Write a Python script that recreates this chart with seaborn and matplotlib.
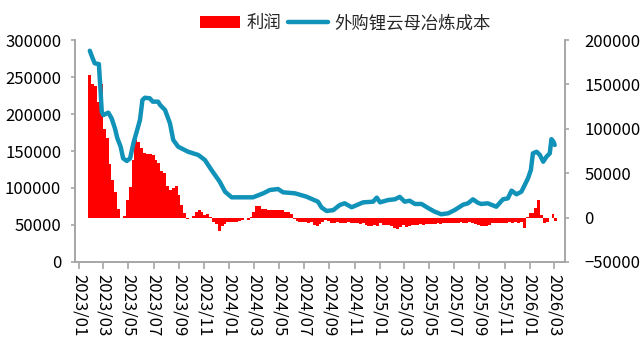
import numpy as np
import pandas as pd
import matplotlib
matplotlib.use("Agg")
from matplotlib import pyplot as plt
import matplotlib.dates as mdates
import seaborn as sns

# 外购锂云母冶炼成本 (left axis)
cost_dates = ["2023-01-27", "2023-02-03", "2023-02-08", "2023-02-18", "2023-02-22", "2023-02-25",
              "2023-03-01", "2023-03-13", "2023-03-21", "2023-03-29", "2023-04-04", "2023-04-12",
              "2023-04-18", "2023-04-27", "2023-05-05", "2023-05-13", "2023-05-21", "2023-05-29",
              "2023-06-04", "2023-06-10", "2023-06-22", "2023-06-29", "2023-07-12", "2023-07-17",
              "2023-07-29", "2023-08-10", "2023-08-18", "2023-08-30", "2023-09-23", "2023-10-18",
              "2023-11-03", "2023-11-19", "2023-12-09", "2023-12-22", "2024-01-07", "2024-02-28",
              "2024-03-24", "2024-04-09", "2024-04-29", "2024-05-11", "2024-06-09", "2024-07-07",
              "2024-08-04", "2024-08-13", "2024-08-25", "2024-09-10", "2024-09-26", "2024-10-08",
              "2024-10-25", "2024-11-22", "2024-12-16", "2024-12-25", "2025-01-02", "2025-01-22",
              "2025-02-07", "2025-02-19", "2025-03-03", "2025-03-15", "2025-03-28", "2025-04-13",
              "2025-04-30", "2025-05-15", "2025-05-31", "2025-06-17", "2025-07-03", "2025-07-23",
              "2025-08-04", "2025-08-16", "2025-08-28", "2025-09-05", "2025-09-21", "2025-10-12",
              "2025-10-28", "2025-11-09", "2025-11-18", "2025-11-30", "2025-12-12", "2025-12-20",
              "2025-12-28", "2026-01-04", "2026-01-09", "2026-01-18", "2026-01-26", "2026-02-03",
              "2026-02-11", "2026-02-19", "2026-02-23", "2026-02-28", "2026-03-03"]
cost = [285500, 275000, 268500, 267500, 232400, 203000,
        198600, 201800, 194200, 180700, 167200, 155800,
        140100, 136500, 140100, 160400, 176100, 191900,
        218900, 222000, 221200, 216700, 216700, 212200,
        205400, 187400, 164900, 155800, 149000, 144600,
        137800, 124300, 108500, 95000, 87400, 87400,
        92800, 97300, 98600, 94200, 92800, 88300,
        81500, 73500, 69000, 70000, 77000, 79300,
        74000, 80600, 81500, 87000, 80600, 83800,
        84700, 88000, 81500, 82800, 78400, 78400,
        72600, 68000, 64500, 65800, 70300, 77400,
        79300, 84700, 80100, 78400, 79300, 74700,
        84700, 86000, 96400, 91500, 95000, 104000,
        113100, 124300, 146800, 149000, 144600, 135500,
        142300, 146800, 166000, 162600, 158100]

# 利润 (right axis), weekly from 2023-01-27
profit_start = "2023-01-27"
profit = [160600, 150000, 148000, 130000, 151000, 100000, 90000, 60000, 42000, 29000,
          10000, -1000, 2000, 20000, 35000, 65000, 87000, 85000, 78000, 73000,
          72000, 72000, 70000, 65000, 62000, 52000, 50000, 36000, 31000, 33000,
          36000, 26000, 14000, 5000, -2000, 0, 2000, 6500, 9000, 6000,
          3000, 4500, 1000, -5500, -7000, -15000, -9000, -7000, -4500, -4500,
          -4500, -4500, -4000, -2500, -500, -2500, 500, 6000, 12500, 13000,
          10000, 9300, 9000, 8600, 8600, 8600, 8600, 8000, 6600, 6600,
          4000, -1500, -4000, -4600, -5000, -5500, -6400, -5000, -8300, -9500,
          -7000, -5000, -3000, -4000, -6400, -6000, -5500, -6400, -6000, -6400,
          -5500, -6400, -6000, -6500, -7000, -6000, -8500, -9500, -9000, -8000,
          -9500, -6500, -8300, -8000, -8300, -9000, -12000, -13200, -11000, -8300,
          -10200, -9000, -8300, -8000, -8300, -7500, -8300, -7500, -7500, -7000,
          -7500, -6500, -7000, -6000, -6400, -6000, -6400, -6000, -6400, -5500,
          -6000, -6400, -5000, -6000, -7000, -8300, -9000, -9400, -9000, -8000,
          -6400, -6400, -6000, -6400, -6000, -6400, -5500, -5700, -5000, -5700,
          -5000, -11300, 1000, 5000, 5000, 10500, 19800, 3000, -6400, -5000,
          0, 4000, -4000]

tick_labels_start = "2023-01-01"
tick_labels_end = "2026-03-01"

cost_df = pd.DataFrame({"date": pd.to_datetime(cost_dates), "cost": cost})
profit_dates = pd.date_range(profit_start, periods=len(profit), freq="7D")

sns.set_style("ticks")
plt.rcParams['font.family'] = ['Noto Sans CJK SC', 'DejaVu Sans']

fig = plt.figure(figsize=(6.44, 3.51), dpi=100)
ax = fig.add_axes([0.1165, 0.2536, 0.7608, 0.6324])
ax2 = ax.twinx()

bars = ax2.bar(profit_dates, profit, width=7, color="#FF0000", linewidth=0, label="利润")
sns.lineplot(data=cost_df, x="date", y="cost", ax=ax, color="#1192B8", linewidth=3.2,
             label="外购锂云母冶炼成本", legend=False)

ax.set_zorder(ax2.get_zorder() + 1)
ax.patch.set_visible(False)

ax.set_ylim(0, 300000)
ax.set_yticks(np.arange(0, 300001, 50000))
ax2.set_ylim(-50000, 200000)
ax2.set_yticks(np.arange(-50000, 200001, 50000))
ax.set_xlim(pd.Timestamp("2022-12-22"), pd.Timestamp("2026-03-28"))
ax.set_xticks(pd.date_range(tick_labels_start, tick_labels_end, freq="2MS"))
ax.xaxis.set_major_formatter(mdates.DateFormatter("%Y/%m"))
ax.set_xlabel("")
ax.set_ylabel("")

gray = "#A6A6A6"
for a in (ax, ax2):
    a.spines["top"].set_visible(False)
    for s in ("left", "right", "bottom"):
        a.spines[s].set_color(gray)
        a.spines[s].set_linewidth(1.2)
    a.tick_params(colors=gray, labelcolor="black", labelsize=12, width=1.2)
ax.tick_params(axis="y", length=3, pad=7)
ax2.tick_params(axis="y", length=3, pad=11)
ax.tick_params(axis="x", length=5, pad=4, labelrotation=270)
for lbl in ax.get_xticklabels():
    lbl.set_va("top")
    lbl.set_ha("center")

handles = [bars, ax.get_lines()[0]]
fig.legend(handles, ["利润", "外购锂云母冶炼成本"], loc="center", bbox_to_anchor=(0.536, 0.934),
           ncol=2, frameon=False, fontsize=12.5, handlelength=2.3, handletextpad=0.35,
           columnspacing=0.4)

fig.savefig("out.png", dpi=100)
